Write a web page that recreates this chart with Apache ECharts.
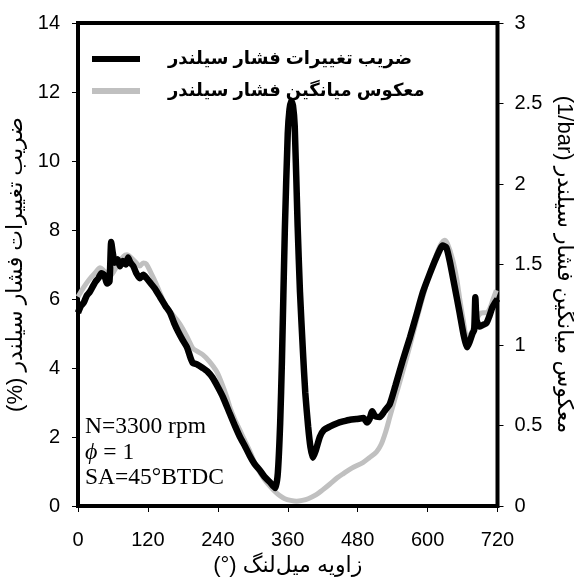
<!DOCTYPE html>
<html>
<head>
<meta charset="utf-8">
<script src="https://cdn.jsdelivr.net/npm/echarts@6/dist/echarts.min.js"></script>
<style>
html,body{margin:0;padding:0;background:#fff;}
#chart{width:574px;height:577px;}
</style>
</head>
<body>
<div id="chart"></div>
<script>
// Crank angle (deg) and coefficient of variation of cylinder pressure (%)
const covAngle = [0,5,10,15,20,25,30,35,40,45,50,54,57,60,63,68,72,77,82,86,90,95,100,106,112,118,125,132,141,150,158,165,172,180,187,193,197,205,214,222,231,240,249,260,270,278,287,295,303,312,320,329,335,339,343,347,350,355,360,363,366,369,372,377,381,386,390,395,399,403,408,415,422,432,445,455,467,478,490,496,500,505,510,518,526,535,545,557,570,581,592,603,615,626,632,638,646,655,662,668,672,677,680,682,684,689,695,701,706,711,716,720];
const covValue = [5.6,5.8,5.9,6.1,6.2,6.35,6.5,6.6,6.75,6.7,6.45,6.5,7.65,7.3,7.05,7.15,6.95,7.1,7.0,7.2,7.05,6.95,6.75,6.6,6.7,6.6,6.45,6.3,6.05,5.8,5.6,5.3,5.05,4.8,4.6,4.3,4.15,4.1,4.0,3.9,3.72,3.45,3.15,2.7,2.3,2.0,1.72,1.45,1.22,1.04,0.85,0.7,0.58,0.52,0.96,2.4,4.2,8.0,10.8,11.5,11.75,11.6,11.0,8.1,6.2,4.5,3.3,2.3,1.7,1.4,1.6,2.0,2.2,2.3,2.4,2.45,2.5,2.52,2.55,2.42,2.5,2.75,2.6,2.58,2.75,2.95,3.5,4.2,4.9,5.55,6.2,6.7,7.2,7.55,7.5,7.1,6.4,5.6,4.95,4.6,4.75,5.0,5.1,6.05,5.4,5.2,5.25,5.3,5.5,5.75,5.9,6.0];
// Crank angle (deg) and inverse of mean cylinder pressure (1/bar)
const invAngle = [0,10,20,30,38,45,55,62,70,78,84,92,100,106,112,117,125,133,141,150,160,170,180,190,197,205,214,225,238,247,255,262,270,278,287,295,303,312,320,329,338,346,355,365,375,385,395,409,420,432,445,455,470,489,500,512,520,528,535,545,557,570,581,592,603,615,622,629,634,643,650,655,661,667,672,677,683,689,695,701,706,712,718];
const invValue = [1.30,1.36,1.41,1.45,1.48,1.46,1.43,1.46,1.51,1.55,1.56,1.54,1.51,1.49,1.51,1.505,1.45,1.39,1.32,1.25,1.2,1.155,1.1,1.03,0.98,0.96,0.94,0.9,0.835,0.76,0.68,0.6,0.53,0.47,0.4,0.34,0.27,0.21,0.165,0.125,0.09,0.065,0.045,0.035,0.03,0.035,0.045,0.07,0.1,0.135,0.175,0.2,0.235,0.27,0.3,0.335,0.38,0.46,0.55,0.68,0.83,1.0,1.155,1.3,1.44,1.56,1.62,1.65,1.63,1.53,1.41,1.29,1.16,1.06,1.06,1.09,1.15,1.19,1.2,1.2,1.22,1.28,1.34];
const xTicks = {min:0, max:720, step:120};
const leftTicks = {min:0, max:14, step:2};
const rightTicks = {min:0, max:3, step:0.5};
const seriesNames = ['ضریب تغییرات فشار سیلندر', 'معکوس میانگین فشار سیلندر'];
const xTitle = '(°) زاویه میل‌لنگ';
const leftTitle = '(%) ضریب تغییرات فشار سیلندر';
const rightTitle = '(1/bar) معکوس میانگین فشار سیلندر';

const sans = '"Liberation Sans", "DejaVu Sans", Arial, sans-serif';
const serif = '"Liberation Serif", "Times New Roman", serif';

const chart = echarts.init(document.getElementById('chart'), null, {renderer:'canvas'});
const zip = (a,b) => a.map((v,i)=>[v,b[i]]);

chart.setOption({
  backgroundColor:'#fff',
  animation:false,
  grid:{left:78, right:76.5, top:23, bottom:71, show:true, borderColor:'#000', borderWidth:4,
    backgroundColor:'transparent', containLabel:false, outerBoundsMode:'none'},
  legend:{
    orient:'vertical', left:87, top:45, itemWidth:48, itemHeight:6, itemGap:14, icon:'rect',
    data:seriesNames,
    textStyle:{fontFamily:sans, fontSize:18, fontWeight:'bold', color:'#000', padding:[0,0,0,23]}
  },
  xAxis:{
    type:'value', min:xTicks.min, max:xTicks.max, interval:xTicks.step,
    axisLine:{show:false}, splitLine:{show:false},
    axisTick:{show:true, length:6, lineStyle:{color:'#000', width:1}},
    axisLabel:{fontFamily:sans, fontSize:20, color:'#000', margin:24},
    name:xTitle, nameLocation:'middle', nameGap:48,
    nameTextStyle:{fontFamily:sans, fontSize:22, color:'#000'}
  },
  yAxis:[{
    type:'value', min:leftTicks.min, max:leftTicks.max, interval:leftTicks.step,
    axisLine:{show:false}, splitLine:{show:false},
    axisTick:{show:true, length:6, lineStyle:{color:'#000', width:1}},
    axisLabel:{fontFamily:sans, fontSize:20, color:'#000', margin:18},
    name:leftTitle, nameLocation:'middle', nameGap:40, nameRotate:90,
    nameTextStyle:{fontFamily:sans, fontSize:22, color:'#000'}
  },{
    type:'value', position:'right', min:rightTicks.min, max:rightTicks.max, interval:rightTicks.step,
    axisLine:{show:false}, splitLine:{show:false},
    axisTick:{show:true, length:6, lineStyle:{color:'#000', width:1}},
    axisLabel:{fontFamily:sans, fontSize:20, color:'#000', margin:17,
      formatter:v=>String(v)},
    name:rightTitle, nameLocation:'middle', nameGap:33, nameRotate:-90,
    nameTextStyle:{fontFamily:sans, fontSize:22, color:'#000'}
  }],
  series:[{
    name:seriesNames[1], type:'line', yAxisIndex:1, showSymbol:false, smooth:0.3,
    data:zip(invAngle, invValue), z:2,
    lineStyle:{color:'#c0c0c0', width:5}, itemStyle:{color:'#c0c0c0'}
  },{
    name:seriesNames[0], type:'line', yAxisIndex:0, showSymbol:false, smooth:0.2,
    data:zip(covAngle, covValue), z:3,
    lineStyle:{color:'#000', width:6.5}, itemStyle:{color:'#000'}
  }],
  graphic:[
    {type:'text', left:85, top:415, style:{text:'N=3300 rpm', font:'23.5px '+serif, fill:'#000'}},
    {type:'text', left:85, top:441, style:{text:'{i|ϕ} = 1', font:'23.5px '+serif, fill:'#000',
      rich:{i:{fontFamily:serif, fontStyle:'italic', fontSize:24}}}},
    {type:'text', left:85, top:466, style:{text:'SA=45°BTDC', font:'23.5px '+serif, fill:'#000'}}
  ]
});
</script>
</body>
</html>
